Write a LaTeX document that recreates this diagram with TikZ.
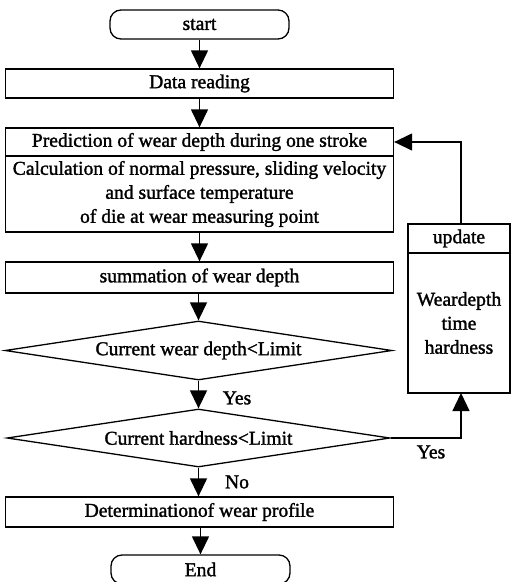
\documentclass[tikz,border=0pt]{standalone}
\usepackage{fontspec}
\setmainfont{Liberation Serif}[BoldFont={Liberation Serif},BoldFeatures={FakeBold=1.5}]
\usetikzlibrary{arrows.meta,shapes.geometric}
\begin{document}
\begin{tikzpicture}[x=1pt,y=-1pt,
  every node/.style={font=\fontsize{19.6}{24}\selectfont\bfseries},
  box/.style={draw, line width=1.3pt, rectangle, minimum width=388pt, inner sep=0pt, align=center},
  term/.style={draw, line width=1.3pt, rounded corners=11pt, minimum width=179pt, minimum height=29pt, inner sep=0pt},
  dec/.style={draw, line width=1.3pt, diamond, aspect=6.5, inner sep=0pt},
  arr/.style={line width=1.3pt, -{Triangle[width=17pt,length=18pt]}},
  lbl/.style={inner sep=0pt}]
\useasboundingbox (0,0) rectangle (511,582);
\node[term] (start) at (199.5,24.5) {start};
\node[box, minimum height=29pt] (read) at (199.5,83.5) {Data reading};
\node[box, minimum height=28pt] (pred) at (199.5,142) {Prediction of wear depth during one stroke};
\node[box, minimum height=76pt] (calc) at (199.5,194) {Calculation of normal pressure, sliding velocity\\and surface temperature\\of die at wear measuring point};
\node[box, minimum height=31pt] (sum) at (199.5,277.5) {summation of wear depth};
\node[dec, minimum width=387pt, minimum height=59pt] (d1) at (198.5,350.5) {Current wear depth<Limit};
\node[dec, minimum width=383pt, minimum height=58pt] (d2) at (198.5,438) {Current hardness<Limit};
\node[box, minimum height=30pt] (det) at (199.5,512) {Determinationof wear profile};
\node[term] (end) at (200.5,569.5) {End};
\node[draw, line width=1.3pt, minimum width=102pt, minimum height=29pt, inner sep=0pt] (upd) at (459,238.5) {update};
\node[draw, line width=1.3pt, minimum width=102pt, minimum height=140pt, inner sep=0pt, align=center] (updb) at (459,323) {Weardepth\\time\\hardness};
\coordinate (fb) at (461,224);
\coordinate (fu) at (461,393);
\draw[arr] (start) -- (read);
\draw[arr] (read) -- (pred);
\draw[arr] (calc) -- (sum);
\draw[arr] (sum.south -| d1.north) -- (d1.north);
\draw[arr] (d1) -- (d2);
\draw[arr] (d2.south) -- (d2.south |- det.north);
\draw[arr] (det.south -| end.north) -- (end.north);
\draw[arr] (fb) |- (pred.east);
\draw[arr] (d2.east) -| (fu);
\node[lbl] (y1) at (237,398) {Yes};
\node[lbl] (y2) at (431,452) {Yes};
\node[lbl] (no) at (237,482) {No};
\end{tikzpicture}
\end{document}
